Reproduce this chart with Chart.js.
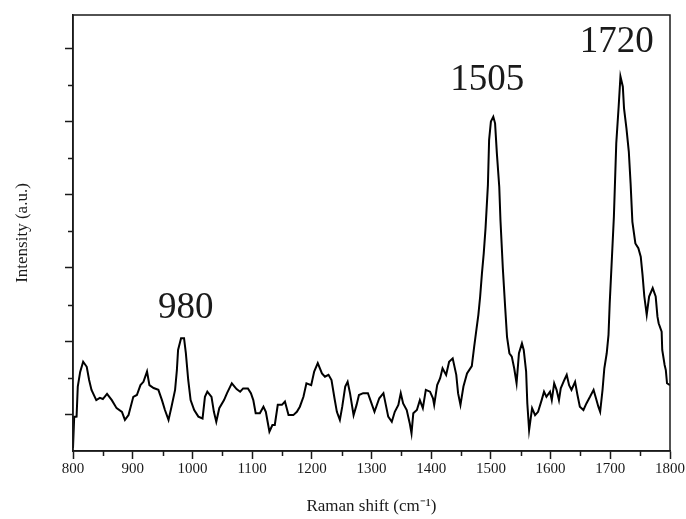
<!DOCTYPE html>
<html><head><meta charset="utf-8">
<script src="https://cdn.jsdelivr.net/npm/chart.js@4.4.1/dist/chart.umd.min.js"></script>
<style>html,body{margin:0;padding:0;background:#fff}#wrap{width:686px;height:519px}</style>
</head><body><div id="wrap"><canvas id="c" width="686" height="519"></canvas></div>
<script>
const ramanShift = [800,802,806,808,812,817,823,827,831,839,845,850,857,865,873,882,887,893,901,907,913,918,924,928,935,943,949,954,960,965,971,974,976,981,986,989,993,997,1003,1010,1017,1021,1025,1032,1036,1040,1045,1053,1058,1066,1074,1080,1085,1093,1098,1102,1106,1113,1119,1123,1126,1129,1134,1138,1143,1150,1155,1161,1169,1175,1180,1186,1191,1199,1204,1210,1217,1222,1228,1233,1238,1242,1247,1251,1256,1260,1264,1270,1275,1279,1286,1294,1299,1305,1313,1320,1324,1328,1334,1339,1345,1349,1353,1359,1364,1367,1370,1376,1381,1386,1391,1398,1403,1405,1410,1415,1419,1425,1430,1436,1442,1445,1449,1454,1460,1468,1472,1476,1479,1482,1485,1488,1491,1495,1497,1500,1504,1507,1510,1514,1516,1520,1524,1527,1531,1535,1539,1543,1547,1552,1555,1559,1561,1564,1569,1574,1579,1585,1589,1593,1599,1602,1606,1610,1614,1617,1623,1627,1631,1635,1641,1645,1649,1655,1660,1666,1672,1676,1680,1683,1687,1690,1694,1697,1699,1702,1706,1710,1714,1717,1721,1723,1727,1731,1734,1737,1742,1747,1751,1754,1757,1761,1765,1771,1776,1779,1781,1786,1787,1791,1793,1795,1800];
const intensity = [8,93,94,176,216,244,230,194,167,139,145,142,156,139,117,107,85,98,148,153,180,189,217,180,172,167,139,112,85,121,167,221,276,308,308,268,194,139,112,94,89,148,162,148,107,80,117,139,158,185,169,162,171,171,158,139,103,103,121,107,80,53,71,71,126,126,135,98,98,107,121,148,185,180,217,240,212,203,208,194,144,107,85,121,176,189,158,98,126,153,158,158,135,107,144,158,126,94,80,107,126,158,130,112,76,48,103,112,139,117,167,162,144,126,180,199,226,208,244,253,208,158,126,176,212,232,285,335,372,422,485,540,608,727,850,900,913,895,813,722,631,499,390,312,267,258,226,185,267,294,276,217,130,57,117,98,107,139,162,148,162,139,185,167,139,171,194,208,180,167,189,153,121,112,130,148,167,144,121,107,167,226,267,317,403,504,640,841,941,1023,995,936,882,818,731,626,567,554,531,481,422,372,422,445,422,367,349,326,276,235,221,185,180];
const xMajorTicks = [800,900,1000,1100,1200,1300,1400,1500,1600,1700,1800];
const xMinorTicks = [850,950,1050,1150,1250,1350,1450,1550,1650,1750];
const yMajorTicks = [100,300,500,700,900,1100];
const yMinorTicks = [200,400,600,800,1000];
const peakLabels = ['980','1505','1720'];
const peakLabelX = [989,1494,1711];
const peakLabelY = [363,986,1090];
const xTitle = 'Raman shift (cm\u207B\u00B9)';
const yTitle = 'Intensity (a.u.)';

const INK = '#1a1a1a';
const SERIF = '"Liberation Serif", "Times New Roman", serif';

const extras = {
  id: 'extras',
  afterDraw(chart) {
    const {ctx, chartArea: a, scales: {x, y}} = chart;
    ctx.save();
    ctx.strokeStyle = INK; ctx.lineWidth = 1.5;
    ctx.strokeRect(a.left, a.top, a.right - a.left, a.bottom - a.top);
    ctx.beginPath();
    xMinorTicks.forEach(v => { const px = Math.round(x.getPixelForValue(v)) + 0.5; ctx.moveTo(px, a.bottom); ctx.lineTo(px, a.bottom + 5); });
    yMinorTicks.forEach(v => { const py = Math.round(y.getPixelForValue(v)) + 0.5; ctx.moveTo(a.left, py); ctx.lineTo(a.left - 5, py); });
    ctx.stroke();
    ctx.fillStyle = INK;
    ctx.font = '37px ' + SERIF;
    ctx.textAlign = 'center'; ctx.textBaseline = 'alphabetic';
    peakLabels.forEach((t, i) => ctx.fillText(t, x.getPixelForValue(peakLabelX[i]), y.getPixelForValue(peakLabelY[i])));
    ctx.restore();
  }
};

new Chart(document.getElementById('c'), {
  type: 'line',
  data: {
    datasets: [{
      data: ramanShift.map((v, i) => ({x: v, y: intensity[i]})),
      borderColor: '#000', borderWidth: 2, pointRadius: 0, tension: 0, fill: false
    }]
  },
  options: {
    responsive: false, animation: false,
    layout: {padding: {left: 0, right: 16, top: 15, bottom: 0}},
    plugins: {legend: {display: false}, tooltip: {enabled: false}},
    scales: {
      x: {
        type: 'linear', min: 800, max: 1800,
        afterBuildTicks: s => { s.ticks = xMajorTicks.map(v => ({value: v})); },
        afterFit: s => { s.height = 68; },
        ticks: {autoSkip: false, maxRotation: 0, padding: 1, color: INK, font: {family: SERIF, size: 15}, callback: v => String(v)},
        grid: {drawOnChartArea: false, tickLength: 8, tickWidth: 1.5, tickColor: INK},
        border: {color: INK, width: 1.5},
        title: {display: true, text: xTitle, color: INK, font: {family: SERIF, size: 17}, padding: {top: 0, bottom: 2}}
      },
      y: {
        type: 'linear', min: 0, max: 1191,
        afterBuildTicks: s => { s.ticks = yMajorTicks.map(v => ({value: v})); },
        afterFit: s => { s.width = 73; },
        ticks: {display: false},
        grid: {drawOnChartArea: false, tickLength: 8, tickWidth: 1.5, tickColor: INK},
        border: {color: INK, width: 1.5},
        title: {display: true, text: yTitle, color: INK, font: {family: SERIF, size: 17}, padding: {top: 12, bottom: 0}}
      }
    }
  },
  plugins: [extras]
});
</script></body></html>
